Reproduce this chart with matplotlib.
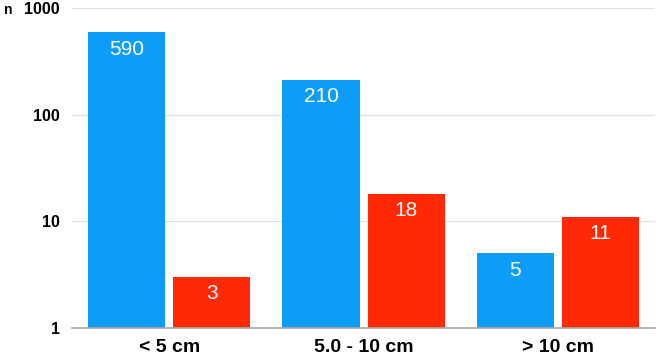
import numpy as np
import matplotlib.pyplot as plt

# Daten
kategorien = ['< 5 cm', '5.0 - 10 cm', '> 10 cm']
werte_blau = [590, 210, 5]
werte_rot = [3, 18, 11]

farbe_blau = '#0E9CF9'
farbe_rot = '#FF2A05'

plt.rcParams['font.family'] = ['Liberation Sans', 'DejaVu Sans']

fig = plt.figure(figsize=(6.57, 3.6), dpi=100)
ax = fig.add_axes([0.1096, 0.0889, 0.8874, 0.8889])

x = np.arange(len(kategorien))
breite = 0.397
abstand = 0.041
off = (breite + abstand) / 2

b1 = ax.bar(x - off, werte_blau, width=breite, color=farbe_blau, zorder=3)
b2 = ax.bar(x + off, werte_rot, width=breite, color=farbe_rot, zorder=3)

# Werte in die Balken schreiben
for bars, werte in ((b1, werte_blau), (b2, werte_rot)):
    for rect, w in zip(bars, werte):
        ax.annotate(str(w), (rect.get_x() + rect.get_width() / 2, w),
                    xytext=(0, -12), textcoords='offset points',
                    ha='center', va='center', color='white', fontsize=15, zorder=4)

ax.set_yscale('log')
ax.set_ylim(1, 1000)
ax.set_xlim(-0.5, 2.5)
ax.set_yticks([1, 10, 100, 1000])
ax.set_yticklabels(['1', '10', '100', '1000'], fontweight='bold', fontsize=11.5)
ax.minorticks_off()
ax.set_xticks(x)
ax.set_xticklabels(kategorien, fontweight='bold', fontsize=14)
ax.tick_params(axis='both', length=0)
ax.tick_params(axis='y', pad=9)
ax.tick_params(axis='x', pad=8)

ax.yaxis.grid(True, color='#e2e2e2', linewidth=1, zorder=0)
for s in ('top', 'right', 'left'):
    ax.spines[s].set_visible(False)
ax.spines['bottom'].set_color('#a8a8a8')
ax.spines['bottom'].set_linewidth(1.2)
ax.spines['bottom'].set_zorder(5)

fig.text(0.006, 0.972, 'n', fontweight='bold', fontsize=10, va='center', ha='left')

fig.savefig('out.png', dpi=100)
